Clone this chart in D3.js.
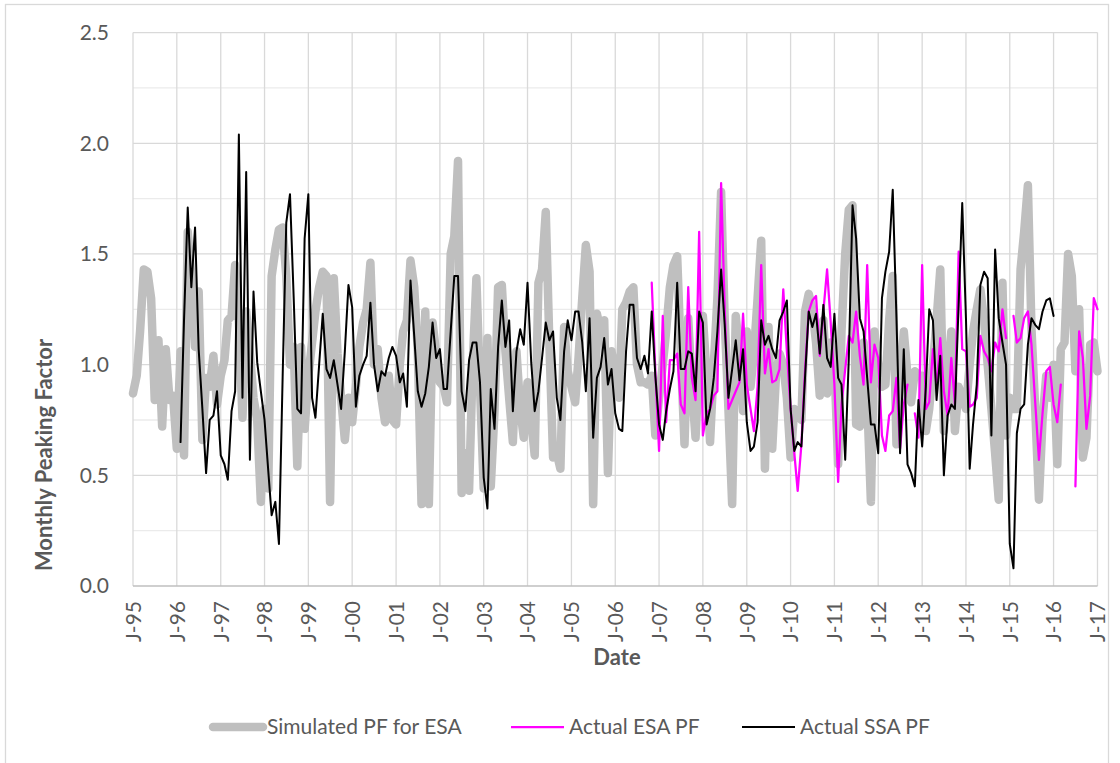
<!DOCTYPE html>
<html>
<head>
<meta charset="utf-8">
<script src="https://cdn.jsdelivr.net/npm/d3@7"></script>
<style>
  body { margin: 0; background: #fff; }
  text { font-family: Lato, "Open Sans", sans-serif; fill: #595959; }
</style>
</head>
<body>
<script>

// monthly values, index 0 = first month of each series
var simStart = new Date(1995, 0, 1);   // Simulated PF for ESA
var esaStart = new Date(2006, 10, 1);  // Actual ESA PF
var ssaStart = new Date(1996, 1, 1);   // Actual SSA PF

var simulatedPF = [
  0.87, 0.95, 1.15, 1.43, 1.42, 1.30, 0.84, 1.11, 0.72, 1.07, 0.84, 0.86,
  0.62, 1.06, 0.59, 1.60, 1.40, 1.08, 1.33, 0.66, 0.94, 0.90, 1.04, 0.82,
  0.95, 1.02, 1.20, 1.22, 1.45, 1.20, 0.76, 1.24, 1.05, 0.85, 0.75, 0.38,
  0.80, 0.44, 1.40, 1.52, 1.61, 1.62, 1.40, 1.00, 1.08, 0.54, 1.08, 0.71,
  0.95, 1.10, 1.24, 1.35, 1.42, 1.40, 0.38, 1.39, 1.05, 0.85, 0.66, 0.85,
  0.74, 0.90, 1.08, 1.19, 1.25, 1.46, 1.00, 1.07, 0.85, 0.74, 0.95, 0.75,
  0.73, 1.00, 1.15, 1.20, 1.47, 1.35, 1.06, 0.37, 1.24, 0.37, 1.19, 1.05,
  0.92, 0.90, 0.83, 1.50, 1.58, 1.92, 0.42, 0.60, 0.43, 1.00, 1.39, 0.90,
  0.44, 1.12, 0.45, 0.79, 1.35, 1.36, 1.06, 0.85, 0.65, 1.06, 0.80, 0.67,
  0.92, 0.75, 0.59, 1.37, 1.43, 1.69, 1.10, 0.58, 0.60, 0.53, 1.17, 0.97,
  0.90, 0.83, 1.03, 1.30, 1.54, 1.42, 0.37, 1.23, 1.15, 1.20, 0.51, 1.06,
  0.95, 0.85, 1.25, 1.28, 1.33, 1.35, 1.00, 0.92, 0.92, 0.91, 0.95, 0.68,
  0.85, 1.00, 1.15, 1.35, 1.45, 1.49, 1.05, 0.64, 1.21, 0.90, 0.67, 1.00,
  1.22, 0.95, 0.65, 1.00, 1.30, 1.78, 1.20, 0.80, 0.37, 1.22, 1.05, 0.79,
  1.15, 0.90, 1.05, 1.30, 1.56, 0.53, 1.17, 0.62, 0.95, 1.05, 1.00, 0.85,
  0.58, 0.80, 0.78, 0.75, 1.24, 1.32, 1.25, 1.10, 0.86, 1.20, 0.87, 1.10,
  1.00, 0.55, 1.15, 1.50, 1.70, 1.72, 0.73, 0.72, 1.10, 0.85, 0.38, 1.15,
  1.00, 0.90, 0.91, 1.20, 1.40, 0.64, 0.90, 1.15, 0.95, 0.83, 0.97, 0.95,
  0.95, 0.70, 0.80, 1.00, 1.20, 1.43, 0.70, 0.95, 1.15, 0.70, 0.90, 0.85,
  0.80, 1.00, 1.15, 1.25, 1.34, 1.20, 1.00, 0.80, 0.60, 0.39, 1.37, 0.68,
  0.85, 0.80, 0.80, 1.43, 1.60, 1.81, 1.16, 0.80, 0.39, 0.75, 0.95, 0.85,
  1.00, 0.55, 1.07, 1.10, 1.50, 1.40, 0.97, 1.25, 0.58, 0.67, 1.09, 1.10,
  0.97
];

var esaPF = [
  1.37, 0.97, 0.61,
  1.22, 0.74, 1.02, 1.02, 1.05, 0.82, 0.78, 1.35, 0.94, 0.84, 1.60, 0.68,
  0.78, 0.80, 0.86, 0.88, 1.82, 1.25, 0.80, 0.84, 0.88, 0.92, 1.23, 0.91,
  0.80, 0.70, 0.90, 1.45, 0.96, 1.07, 0.92, 0.93, 0.98, 1.34, 1.06, 0.80,
  0.60, 0.43, 0.64, 0.97, 1.24, 1.29, 1.31, 1.04, 1.24, 1.43, 1.19, 0.91,
  0.47, 0.82, 0.98, 1.13, 1.10, 1.24, 1.04, 0.91, 1.45, 0.92, 1.09, 1.03,
  0.68, 0.61, 0.77, 0.79, 0.94, 0.62, 0.82, 0.91, null, 0.78, 0.67, 1.45,
  0.80, 0.83, 1.07, 0.90, 1.12, 0.88, 0.77, 1.03, 0.82, 1.51, 1.07, 1.06,
  0.81, 0.82, 0.85, 1.13, 1.06, 1.03, 0.97, 1.10, 1.06, 1.25, 1.12, null,
  1.22, 1.10, 1.12, 1.21, 1.24, 1.09, 0.83, 0.57, 0.78, 0.97, 0.99, 0.82,
  0.74, 0.91, null, null, null, 0.45, 1.15, 1.03, 0.71, 0.86, 1.30, 1.25
];

var ssaPF = [
  0.65, 1.20, 1.71, 1.35, 1.62, 1.07, 0.80, 0.51, 0.75, 0.77, 0.88,
  0.59, 0.55, 0.48, 0.79, 0.88, 2.04, 0.85, 1.87, 0.57, 1.33, 1.01, 0.88,
  0.75, 0.52, 0.32, 0.38, 0.19, 0.95, 1.64, 1.77, 1.30, 0.80, 0.78, 1.57,
  1.77, 0.85, 0.76, 1.00, 1.23, 0.98, 0.94, 1.02, 0.91, 0.80, 1.06, 1.36,
  1.26, 0.81, 0.95, 1.00, 1.04, 1.28, 1.00, 0.88, 0.97, 0.95, 1.03, 1.08,
  1.04, 0.92, 0.96, 0.81, 1.38, 1.13, 0.88, 0.81, 0.87, 0.99, 1.19, 1.03,
  1.07, 0.89, 0.89, 1.15, 1.40, 1.40, 0.88, 0.79, 1.02, 1.10, 1.10, 0.92,
  0.49, 0.35, 0.89, 0.71, 1.08, 1.29, 1.08, 1.20, 0.79, 1.06, 1.16, 1.09,
  1.37, 1.01, 0.79, 0.88, 1.03, 1.19, 1.11, 1.15, 0.85, 0.75, 1.06, 1.20,
  1.11, 1.24, 1.24, 1.10, 0.88, 1.21, 0.67, 0.94, 0.99, 1.12, 0.91, 0.98,
  0.78, 0.71, 0.70, 1.06, 1.27, 1.27, 1.03, 0.98, 1.04, 0.96, 1.24, 0.95,
  0.73, 0.66, 0.79, 0.89, 0.97, 1.37, 0.98, 0.98, 1.06, 1.05, 0.88, 1.24,
  1.19, 0.73, 0.80, 0.94, 1.15, 1.43, 1.18, 0.85, 0.98, 1.11, 0.93, 1.07,
  0.74, 0.61, 0.63, 0.74, 1.20, 1.09, 1.13, 1.07, 1.03, 1.20, 1.24, 1.29,
  0.80, 0.61, 0.65, 0.63, 0.94, 1.24, 1.17, 1.23, 1.05, 1.27, 1.03, 0.99,
  1.23, 0.94, 0.91, 0.57, 1.03, 1.72, 1.57, 1.21, 1.15, 0.94, 0.73, 0.73,
  0.60, 1.30, 1.42, 1.51, 1.79, 1.21, 0.60, 1.07, 0.55, 0.51, 0.45, 0.84,
  0.63, 0.90, 1.25, 1.20, 0.84, 1.04, 0.50, 0.77, 0.82, 0.80, 1.27, 1.73,
  1.21, 0.53, 0.73, 0.91, 1.36, 1.42, 1.39, 0.68, 1.52, 1.21, 1.10, 1.00,
  0.19, 0.08, 0.69, 0.80, 0.82, 1.09, 1.21, 1.18, 1.16, 1.24, 1.29, 1.30,
  1.22
];

var yTicks = [0, 0.5, 1.0, 1.5, 2.0, 2.5];
var yMinorTicks = [0.25, 0.75, 1.25, 1.75, 2.25];
var seriesNames = ["Simulated PF for ESA", "Actual ESA PF", "Actual SSA PF"];
var seriesColors = ["#bfbfbf", "#ff00ff", "#000000"];
var seriesWidths = [8.5, 2.25, 2];

var width = 1120, height = 763;
var plotLeft = 133, plotRight = 1097.5, plotTop = 32.6, plotBottom = 586;

function toPoints(values, start) {
  return values.map(function (v, i) {
    return { date: new Date(start.getFullYear(), start.getMonth() + i, 1), v: v };
  });
}

var series = [
  toPoints(simulatedPF, simStart),
  toPoints(esaPF, esaStart),
  toPoints(ssaPF, ssaStart)
];

var x = d3.scaleTime()
          .domain([new Date(1995, 0, 1), new Date(2017, 0, 1)])
          .range([plotLeft, plotRight]);

var y = d3.scaleLinear()
          .domain([0, 2.5])
          .range([plotBottom, plotTop]);

var svg = d3.select("body")
            .append("svg")
            .attr("width", width)
            .attr("height", height);

svg.append("rect")
   .attr("width", width).attr("height", height)
   .attr("fill", "#ffffff");

// chart border
svg.append("rect")
   .attr("x", 5.5).attr("y", 4.5)
   .attr("width", 1103).attr("height", 800)
   .attr("fill", "none")
   .attr("stroke", "#d9d9d9")
   .attr("stroke-width", 1.3);

// GRID
svg.append("g").selectAll("line")
   .data(yMinorTicks)
   .enter().append("line")
     .attr("x1", plotLeft).attr("x2", plotRight)
     .attr("y1", function (d) { return y(d) })
     .attr("y2", function (d) { return y(d) })
     .attr("stroke", "#ebebeb")
     .attr("stroke-width", 1.3);

svg.append("g").selectAll("line")
   .data(yTicks.slice(1))
   .enter().append("line")
     .attr("x1", plotLeft).attr("x2", plotRight)
     .attr("y1", function (d) { return y(d) })
     .attr("y2", function (d) { return y(d) })
     .attr("stroke", "#d9d9d9")
     .attr("stroke-width", 1.3);

var years = x.ticks(d3.timeYear.every(1));

svg.append("g").selectAll("line")
   .data(years)
   .enter().append("line")
     .attr("x1", function (d) { return x(d) })
     .attr("x2", function (d) { return x(d) })
     .attr("y1", plotTop).attr("y2", plotBottom)
     .attr("stroke", "#d9d9d9")
     .attr("stroke-width", 1.3);

// x axis line
svg.append("line")
   .attr("x1", plotLeft).attr("x2", plotRight)
   .attr("y1", plotBottom).attr("y2", plotBottom)
   .attr("stroke", "#bfbfbf")
   .attr("stroke-width", 1.5);

// AXES LABELS
var yAxis = d3.axisLeft(y).tickValues(yTicks).tickFormat(d3.format(".1f")).tickSize(0).tickPadding(0);
var yg = svg.append("g")
            .attr("transform", "translate(109,0)")
            .call(yAxis);
yg.select(".domain").remove();
yg.selectAll("text")
  .attr("font-size", 21)
  .attr("font-family", "Lato, sans-serif")
  .style("fill", "#595959");

var xAxis = d3.axisBottom(x)
              .tickValues(years)
              .tickFormat(function (d) { return "J-" + d3.timeFormat("%y")(d) })
              .tickSize(0);
var xg = svg.append("g")
            .attr("transform", "translate(0," + plotBottom + ")")
            .call(xAxis);
xg.select(".domain").remove();
xg.selectAll("text")
  .attr("font-size", 21)
  .attr("font-family", "Lato, sans-serif")
  .style("fill", "#595959")
  .attr("text-anchor", "end")
  .attr("dy", "0.35em")
  .attr("transform", "translate(0,15) rotate(-90)")
  .attr("x", 0)
  .attr("y", 0);

svg.append("text")
   .attr("transform", "translate(44,455) rotate(-90)")
   .attr("text-anchor", "middle")
   .attr("dy", "0.35em")
   .attr("font-size", 22)
   .attr("font-weight", "bold")
   .text("Monthly Peaking Factor");

svg.append("text")
   .attr("x", 617).attr("y", 657)
   .attr("text-anchor", "middle")
   .attr("dy", "0.35em")
   .attr("font-size", 22)
   .attr("font-weight", "bold")
   .text("Date");

// LINES
var line = d3.line()
             .defined(function (d) { return d.v != null })
             .x(function (d) { return x(d.date) })
             .y(function (d) { return y(d.v) });

svg.append("g").selectAll("path")
   .data(series)
   .enter().append("path")
     .attr("d", line)
     .attr("fill", "none")
     .attr("stroke", function (d, i) { return seriesColors[i] })
     .attr("stroke-width", function (d, i) { return seriesWidths[i] })
     .attr("stroke-linejoin", "round")
     .attr("stroke-linecap", "round");

// LEGEND
var legendX = [209, 511, 742];
var legend = svg.append("g").selectAll("g")
                .data(seriesNames)
                .enter().append("g")
                .attr("transform", function (d, i) { return "translate(" + legendX[i] + ",727)" });

legend.append("line")
      .attr("x1", function (d, i) { return i == 0 ? 4 : 0 })
      .attr("x2", function (d, i) { return i == 0 ? 54 : 53 })
      .attr("stroke", function (d, i) { return seriesColors[i] })
      .attr("stroke-width", function (d, i) { return seriesWidths[i] })
      .attr("stroke-linecap", function (d, i) { return i == 0 ? "round" : "butt" });

legend.append("text")
      .attr("x", 58)
      .attr("dy", "0.35em")
      .attr("font-size", 21)
      .text(function (d) { return d });

</script>
</body>
</html>
